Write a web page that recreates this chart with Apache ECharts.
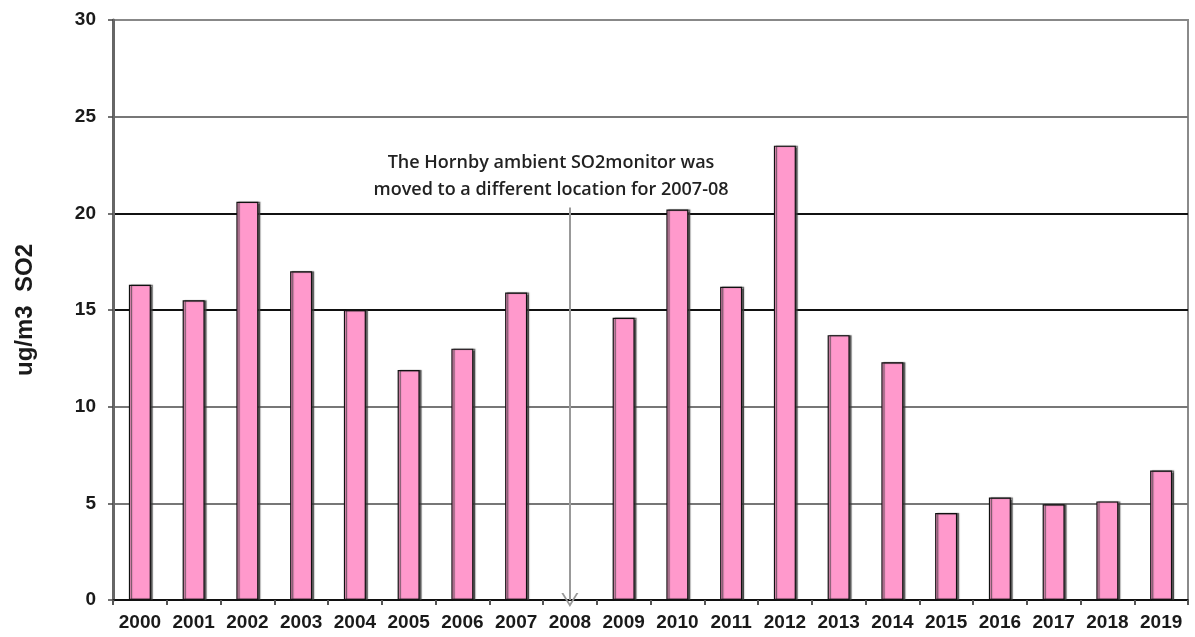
<!DOCTYPE html>
<html>
<head>
<meta charset="utf-8">
<title>Hornby ambient SO2</title>
<script src="https://cdn.jsdelivr.net/npm/echarts@6/dist/echarts.min.js"></script>
<style>
  html, body { margin: 0; padding: 0; background: #fff; }
  #main { width: 1195px; height: 637px; }
</style>
</head>
<body>
<div id="main"></div>
<script>
// annual mean SO2 at Hornby, ug/m3 (2008 missing - monitor moved)
var years = ['2000', '2001', '2002', '2003', '2004', '2005', '2006', '2007', '2008', '2009',
             '2010', '2011', '2012', '2013', '2014', '2015', '2016', '2017', '2018', '2019'];
var so2 = [16.3, 15.5, 20.6, 17.0, 15.0, 11.9, 13.0, 15.9, null, 14.6,
           20.2, 16.2, 23.5, 13.7, 12.3, 4.5, 5.3, 4.95, 5.1, 6.7];
var yTicks = [0, 5, 10, 15, 20, 25, 30];
var noteLines = ['The Hornby ambient SO2monitor was', 'moved to a different location for 2007-08'];
var noteYear = '2008';
var noteTop = 20.3;

var chart = echarts.init(document.getElementById('main'));

chart.setOption({
    animation: false,
    backgroundColor: '#fff',
    grid: {
        left: 113, right: 7, top: 20, bottom: 37,
        show: true,
        borderColor: '#8a8a8a',
        borderWidth: 2
    },
    xAxis: {
        type: 'category',
        data: years,
        axisLine: { lineStyle: { color: '#111', width: 1.5 } },
        axisTick: { show: true, length: 5, lineStyle: { color: '#555', width: 2 } },
        axisLabel: {
            interval: 0,
            margin: 13,
            color: '#1a1a1a',
            fontFamily: 'Liberation Sans',
            fontWeight: 'bold',
            fontSize: 19
        }
    },
    yAxis: {
        type: 'value',
        min: yTicks[0],
        max: yTicks[yTicks.length - 1],
        interval: yTicks[1] - yTicks[0],
        name: 'ug/m3  SO2',
        nameLocation: 'middle',
        nameGap: 76,
        nameTextStyle: {
            color: '#1a1a1a',
            fontFamily: 'Liberation Sans',
            fontWeight: 'bold',
            fontSize: 24
        },
        axisLine: { show: true, lineStyle: { color: '#666', width: 3 } },
        axisTick: { show: true, length: 5, lineStyle: { color: '#444', width: 1.5 } },
        axisLabel: {
            margin: 17,
            color: '#1a1a1a',
            fontFamily: 'Liberation Sans',
            fontWeight: 'bold',
            fontSize: 19
        },
        splitLine: {
            lineStyle: {
                color: ['#111', '#777', '#777', '#111', '#111', '#777', '#888'],
                width: 1.8
            }
        }
    },
    series: [{
        type: 'bar',
        data: so2,
        barWidth: 22,
        itemStyle: {
            color: '#ff99cc',
            borderColor: '#111',
            borderWidth: 1.2,
            shadowColor: 'rgba(60,60,60,0.8)',
            shadowOffsetX: 2,
            shadowOffsetY: 0,
            shadowBlur: 1
        },
        markLine: {
            silent: true,
            symbol: ['none', 'path://M0,9 L5,0 L10,9 L8.8,9 L5,2.2 L1.2,9 Z'],
            symbolSize: [17, 14],
            label: { show: false },
            lineStyle: { color: '#999', width: 2, type: 'solid' },
            data: [[
                { coord: [noteYear, noteTop] },
                { coord: [noteYear, 0] }
            ]]
        }
    }],
    graphic: [{
        type: 'text',
        x: 551,
        y: 149,
        style: {
            text: noteLines.join('\n'),
            align: 'center',
            verticalAlign: 'top',
            fill: '#222',
            font: '600 18px "Open Sans"',
            lineHeight: 27
        }
    }]
});
</script>
</body>
</html>
